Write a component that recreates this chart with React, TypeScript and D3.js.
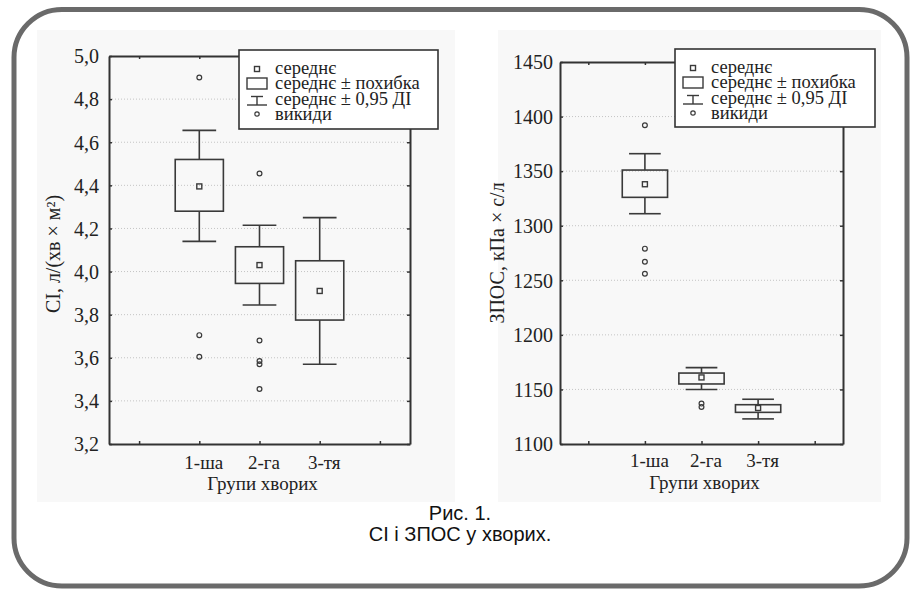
import React, { useEffect, useRef } from "react";
import * as d3 from "d3";

// groups and legend
const groups = ["1-ша", "2-га", "3-тя"];
const legendLabels = ["середнє", "середнє ± похибка", "середнє ± 0,95 ДІ", "викиди"];

// CI, л/(хв × м²)
const ciMean = [4.395, 4.03, 3.91];
const ciSeLow = [4.28, 3.945, 3.775];
const ciSeHigh = [4.52, 4.115, 4.05];
const ciConfLow = [4.14, 3.845, 3.57];
const ciConfHigh = [4.655, 4.215, 4.25];
const ciOutliers = [[4.9, 3.705, 3.605], [4.455, 3.68, 3.585, 3.57, 3.455], []];
const ciTicks = [3.2, 3.4, 3.6, 3.8, 4.0, 4.2, 4.4, 4.6, 4.8, 5.0];

// ЗПОС, кПа × с/л
const zpMean = [1338, 1161, 1133];
const zpSeLow = [1326, 1155, 1129];
const zpSeHigh = [1351, 1165, 1136];
const zpConfLow = [1311, 1150, 1123];
const zpConfHigh = [1366, 1170, 1141];
const zpOutliers = [[1392, 1279, 1267, 1256], [1137, 1134], []];
const zpTicks = [1100, 1150, 1200, 1250, 1300, 1350, 1400, 1450];

const SERIF = "Liberation Serif, Times New Roman, serif";
const INK = "#333";

function drawPanel(svg, p) {
  const x = d3.scaleLinear().domain([-0.5, 4.5]).range([p.left, p.right]);
  const y = d3.scaleLinear()
    .domain([p.ticks[0], p.ticks[p.ticks.length - 1]])
    .range([p.bottom, p.top]);
  const step = x(1) - x(0);
  const boxW = step * 0.8;
  const capW = step * 0.56;
  const g = svg.append("g");

  // light backdrop like the scanned figure
  g.append("rect")
    .attr("x", p.bg[0]).attr("y", p.bg[1])
    .attr("width", p.bg[2]).attr("height", p.bg[3])
    .attr("fill", "#f8f8f8");

  // dotted grid
  g.selectAll("line.grid")
    .data(p.ticks.slice(1, -1))
    .join("line")
    .attr("x1", p.left).attr("x2", p.right)
    .attr("y1", (d) => y(d)).attr("y2", (d) => y(d))
    .attr("stroke", "#c4c4c4")
    .attr("stroke-dasharray", "1,2");

  // axes, ticks pointing inward
  const styleAxis = (sel) => {
    sel.attr("font-family", SERIF);
    sel.select(".domain").attr("stroke", INK).attr("stroke-width", 2);
    sel.selectAll(".tick line").attr("stroke", INK).attr("stroke-width", 1.5);
    sel.selectAll("text").attr("fill", "#222");
  };
  const xTicks = [0, 1, 2, 3, 4];

  g.append("g")
    .attr("transform", `translate(${p.left},0)`)
    .call(d3.axisLeft(y).tickValues(p.ticks).tickSize(-3).tickSizeOuter(0)
      .tickPadding(p.tickPad).tickFormat(p.fmt))
    .call(styleAxis)
    .call((s) => s.selectAll("text").attr("font-size", 20).attr("dy", "0.34em"));

  g.append("g")
    .attr("transform", `translate(${p.right},0)`)
    .call(d3.axisRight(y).tickValues(p.ticks).tickSize(-3).tickSizeOuter(0).tickFormat(() => ""))
    .call(styleAxis);

  g.append("g")
    .attr("transform", `translate(0,${p.top})`)
    .call(d3.axisTop(x).tickValues(xTicks).tickSize(-3).tickSizeOuter(0).tickFormat(() => ""))
    .call(styleAxis);

  g.append("g")
    .attr("transform", `translate(0,${p.bottom})`)
    .call(d3.axisBottom(x).tickValues(xTicks).tickSize(-3).tickSizeOuter(0)
      .tickPadding(p.catPad).tickFormat((d) => groups[d - 1] || ""))
    .call(styleAxis)
    .call((s) => s.selectAll("text").attr("font-size", 19).attr("dx", 4));

  // axis titles
  g.append("text")
    .attr("x", (p.left + p.right) / 2 + 3)
    .attr("y", p.xTitleY)
    .attr("text-anchor", "middle")
    .attr("font-family", SERIF).attr("font-size", 19).attr("fill", "#222")
    .text("Групи хворих");

  g.append("text")
    .attr("transform", `translate(${p.yTitleX},${p.yTitleY}) rotate(-90)`)
    .attr("text-anchor", "middle")
    .attr("dy", "0.35em")
    .attr("font-family", SERIF).attr("font-size", 20).attr("fill", "#222")
    .text(p.yTitle);

  // boxes: mean ± error, whiskers: mean ± 0.95 CI
  const idx = d3.range(groups.length);
  const mk = g.append("g").attr("fill", "none").attr("stroke", "#3a3a3a").attr("stroke-width", 1.6);

  idx.forEach((i) => {
    const cx = x(i + 1);
    mk.append("line").attr("x1", cx).attr("x2", cx)
      .attr("y1", y(p.confHigh[i])).attr("y2", y(p.seHigh[i]));
    mk.append("line").attr("x1", cx).attr("x2", cx)
      .attr("y1", y(p.seLow[i])).attr("y2", y(p.confLow[i]));
    [p.confHigh[i], p.confLow[i]].forEach((v) => {
      mk.append("line").attr("x1", cx - capW / 2).attr("x2", cx + capW / 2)
        .attr("y1", y(v)).attr("y2", y(v));
    });
    mk.append("rect")
      .attr("x", cx - boxW / 2).attr("width", boxW)
      .attr("y", y(p.seHigh[i])).attr("height", y(p.seLow[i]) - y(p.seHigh[i]));
    mk.append("rect")
      .attr("x", cx - 2.5).attr("y", y(p.mean[i]) - 2.5)
      .attr("width", 5).attr("height", 5).attr("stroke-width", 1.4);
    mk.selectAll(null)
      .data(p.outliers[i])
      .join("circle")
      .attr("cx", cx).attr("cy", (d) => y(d)).attr("r", 2.4)
      .attr("stroke-width", 1.2);
  });

  // legend
  const L = p.legend;
  const lg = g.append("g");
  lg.append("rect")
    .attr("x", L.x).attr("y", L.y).attr("width", L.w).attr("height", L.h)
    .attr("fill", "#fff").attr("stroke", INK).attr("stroke-width", 1.6);
  const ix = L.x + 18;
  const base = (k) => L.y + 23.5 + k * 15.5;
  lg.selectAll("text")
    .data(legendLabels)
    .join("text")
    .attr("x", L.x + 36)
    .attr("y", (d, k) => base(k))
    .attr("font-family", SERIF).attr("font-size", 18.5).attr("fill", "#222")
    .text((d) => d);
  const ic = lg.append("g").attr("fill", "none").attr("stroke", "#3a3a3a").attr("stroke-width", 1.4);
  ic.append("rect").attr("x", ix - 2.5).attr("y", base(0) - 7).attr("width", 5).attr("height", 5);
  ic.append("rect").attr("x", ix - 10).attr("y", base(1) - 11).attr("width", 20).attr("height", 11);
  ic.append("line").attr("x1", ix - 6).attr("x2", ix + 6).attr("y1", base(2) - 8).attr("y2", base(2) - 8);
  ic.append("line").attr("x1", ix).attr("x2", ix).attr("y1", base(2) - 8).attr("y2", base(2) + 0.5);
  ic.append("line").attr("x1", ix - 10).attr("x2", ix + 10).attr("y1", base(2) + 0.5).attr("y2", base(2) + 0.5);
  ic.append("circle").attr("cx", ix).attr("cy", base(3) - 6).attr("r", 2.2).attr("stroke-width", 1.2);
}

export default function App() {
  const ref = useRef(null);

  useEffect(() => {
    const svg = d3.select(ref.current);
    svg.selectAll("*").remove();

    drawPanel(svg, {
      left: 109, right: 410, top: 56, bottom: 444,
      ticks: ciTicks, fmt: (d) => d3.format(".1f")(d).replace(".", ","),
      tickPad: 10, catPad: 12,
      mean: ciMean, seLow: ciSeLow, seHigh: ciSeHigh,
      confLow: ciConfLow, confHigh: ciConfHigh, outliers: ciOutliers,
      yTitle: "CI, л/(хв × м²)", yTitleX: 53, yTitleY: 254, xTitleY: 490,
      legend: { x: 239, y: 50, w: 199, h: 79 },
      bg: [37, 30, 418, 472],
    });

    drawPanel(svg, {
      left: 560, right: 843, top: 62, bottom: 444,
      ticks: zpTicks, fmt: (d) => String(d),
      tickPad: 7, catPad: 10,
      mean: zpMean, seLow: zpSeLow, seHigh: zpSeHigh,
      confLow: zpConfLow, confHigh: zpConfHigh, outliers: zpOutliers,
      yTitle: "ЗПОС, кПа × с/л", yTitleX: 497, yTitleY: 253, xTitleY: 489,
      legend: { x: 675, y: 49, w: 200, h: 78 },
      bg: [498, 30, 383, 472],
    });

    // caption
    svg.append("g")
      .attr("font-family", "Liberation Sans, Arial, sans-serif")
      .attr("font-size", 20).attr("fill", "#111").attr("text-anchor", "middle")
      .selectAll("text")
      .data(["Рис. 1.", "CI і ЗПОС у хворих."])
      .join("text")
      .attr("x", 460)
      .attr("y", (d, i) => 520 + i * 20.5)
      .text((d) => d);

    // rounded frame
    svg.append("rect")
      .attr("x", 14).attr("y", 9.5).attr("width", 893).attr("height", 576.5)
      .attr("rx", 48).attr("fill", "none")
      .attr("stroke", "#6a6a6a").attr("stroke-width", 5);
  }, []);

  return (
    <svg
      ref={ref}
      width={912}
      height={590}
      style={{ position: "absolute", left: 0, top: 0, background: "#fff", display: "block" }}
    />
  );
}
